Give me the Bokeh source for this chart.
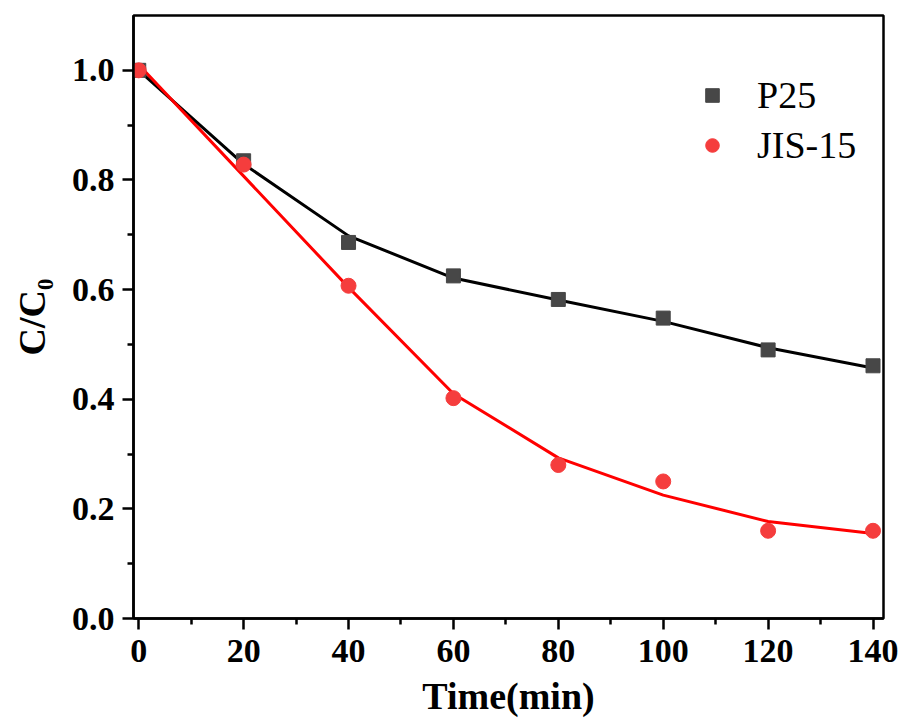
from bokeh.plotting import figure
from bokeh.models import FixedTicker, Legend, LegendItem, Range1d, PrintfTickFormatter
from bokeh.embed import file_html
from bokeh.resources import INLINE

time = [0, 20, 40, 60, 80, 100, 120, 140]
p25 = [1.0, 0.835, 0.686, 0.625, 0.582, 0.548, 0.490, 0.461]
jis15 = [1.0, 0.828, 0.607, 0.402, 0.280, 0.250, 0.160, 0.160]
p25_fit = [1.0, 0.829, 0.698, 0.621, 0.581, 0.542, 0.494, 0.457]
jis15_fit = [1.01, 0.807, 0.604, 0.410, 0.293, 0.225, 0.177, 0.155]

x_major = [0, 20, 40, 60, 80, 100, 120, 140]
x_minor = [10, 30, 50, 70, 90, 110, 130]
y_major = [0.0, 0.2, 0.4, 0.6, 0.8, 1.0]
y_minor = [0.1, 0.3, 0.5, 0.7, 0.9]

FONT = "Liberation Serif"

p = figure(width=913, height=726, output_backend="svg", toolbar_location=None,
           x_range=Range1d(-1, 142), y_range=Range1d(0, 1.1),
           min_border_left=133, min_border_right=30, min_border_top=15, min_border_bottom=108)
p.background_fill_color = "white"
p.border_fill_color = "white"
p.xgrid.visible = False
p.ygrid.visible = False
p.outline_line_color = "black"
p.outline_line_width = 2.5

p.line(time, p25_fit, line_color="black", line_width=3)
p.line(time, jis15_fit, line_color="#ff0000", line_width=3)
r1 = p.scatter(time, p25, marker="square", size=14, fill_color="#474747", line_color="#474747")
r2 = p.scatter(time, jis15, marker="circle", size=15, fill_color="#f53d3d", line_color="#f53d3d")

for ax in (p.xaxis[0], p.yaxis[0]):
    ax.axis_line_width = 2.5
    ax.axis_line_color = "black"
    ax.major_tick_line_width = 2.5
    ax.minor_tick_line_width = 2.5
    ax.major_tick_in = 0
    ax.minor_tick_in = 0
    ax.major_tick_out = 11
    ax.minor_tick_out = 6
    ax.major_label_text_font = FONT
    ax.major_label_text_font_style = "bold"
    ax.major_label_text_font_size = "34px"
    ax.major_label_text_color = "black"
    ax.axis_label_text_font = FONT
    ax.axis_label_text_font_style = "bold"
    ax.axis_label_text_font_size = "38px"
    ax.axis_label_text_color = "black"

p.xaxis.ticker = FixedTicker(ticks=x_major, minor_ticks=x_minor)
p.yaxis.ticker = FixedTicker(ticks=y_major, minor_ticks=y_minor)
p.yaxis.formatter = PrintfTickFormatter(format="%.1f")
p.xaxis.axis_label = "Time(min)"
p.yaxis.axis_label = "C/C\u2080"
p.xaxis.major_label_standoff = 10
p.yaxis.major_label_standoff = 8
p.xaxis.axis_label_standoff = 10
p.yaxis.axis_label_standoff = 16

legend = Legend(items=[LegendItem(label="P25", renderers=[r1]),
                       LegendItem(label="JIS-15", renderers=[r2])],
                location=(562, 451))
legend.label_text_font = FONT
legend.label_text_font_size = "38px"
legend.label_text_color = "black"
legend.border_line_color = None
legend.background_fill_alpha = 0
legend.padding = 0
legend.margin = 0
legend.glyph_width = 34
legend.glyph_height = 44
legend.label_height = 44
legend.label_standoff = 28
legend.spacing = 6
p.add_layout(legend)

open("out.html", "w").write(file_html(p, INLINE))
